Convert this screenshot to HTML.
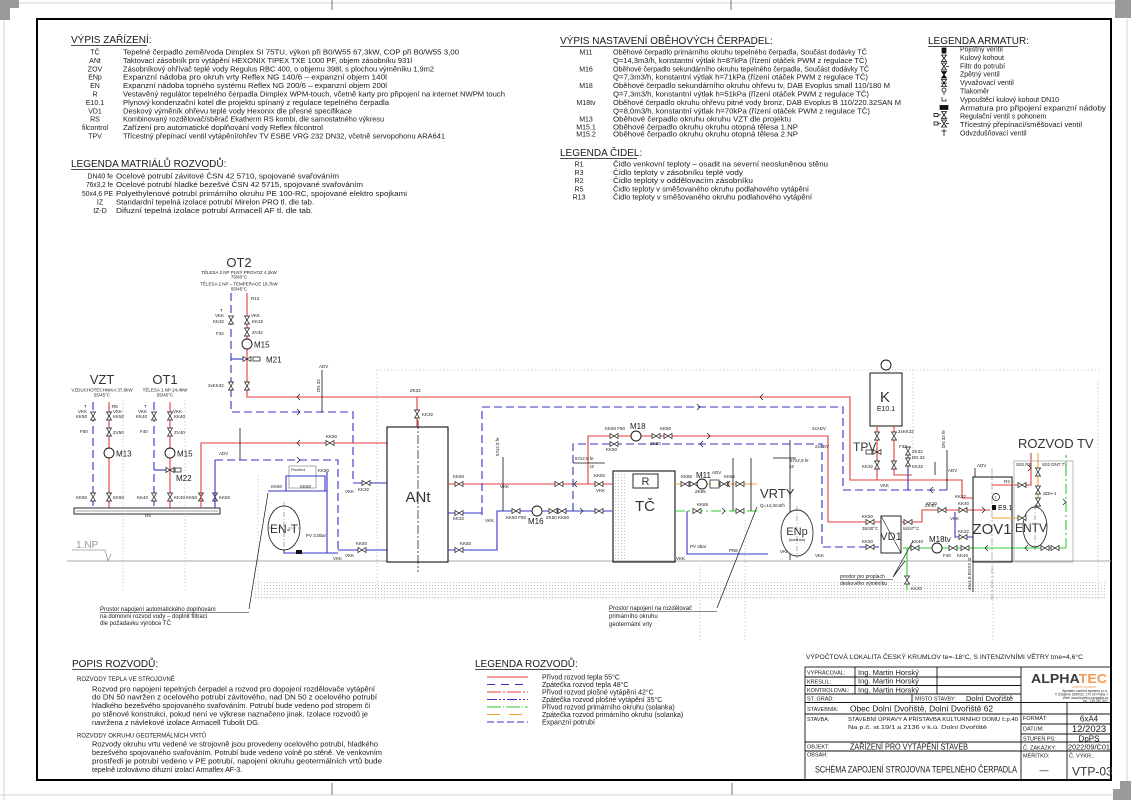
<!DOCTYPE html>
<html><head><meta charset="utf-8">
<style>
html,body{margin:0;padding:0;background:#fff;}
svg{display:block;}
text{font-family:"Liberation Sans",sans-serif;fill:#1a1a1a;}
.s7{font-size:7px;}
.s65{font-size:6.5px;}
.s6{font-size:6px;}
.s5{font-size:5.5px;}
.h{font-size:10px;}
.tn{font-size:4.5px;fill:#222;}
.big{font-size:13px;fill:#333;}
.r{stroke:#e23b3b;stroke-width:1.1;fill:none;}
.b{stroke:#3434c8;stroke-width:1.1;fill:none;}
.bd{stroke:#3434c8;stroke-width:1.1;fill:none;stroke-dasharray:8 4;}
.g{stroke:#2fcc2f;stroke-width:1.1;fill:none;}
.gd{stroke:#2fcc2f;stroke-width:1.1;fill:none;stroke-dasharray:10 3 2 3;}
.o{stroke:#f0a030;stroke-width:1.1;fill:none;}
.k{stroke:#111;stroke-width:0.8;fill:none;}
.wall{stroke:#c4c4c4;stroke-width:0.8;fill:none;stroke-dasharray:1.5 2;}
.ul{stroke:#111;stroke-width:0.8;}
</style></head><body>
<svg width="1131" height="800" viewBox="0 0 1131 800" xmlns="http://www.w3.org/2000/svg">
<defs>
<pattern id="dots" width="3" height="3" patternUnits="userSpaceOnUse"><rect width="1" height="1" fill="#c4c4c4"/></pattern>
<path id="vv" d="M-2.5,-4 L2.5,-4 L-2.5,4 L2.5,4 Z" fill="#fff" stroke="#111" stroke-width="0.7"/>
<path id="vh" d="M-4,-2.5 L-4,2.5 L4,-2.5 L4,2.5 Z" fill="#fff" stroke="#111" stroke-width="0.7"/>
<circle id="pm" r="5" fill="#fff" stroke="#111" stroke-width="0.9"/>
<path id="al" d="M3,-3 L0,0 L3,3" fill="none" stroke="#111" stroke-width="0.7"/>
<path id="ar" d="M-3,-3 L0,0 L-3,3" fill="none" stroke="#111" stroke-width="0.7"/>
</defs>
<rect width="1131" height="800" fill="#fff"/>
<!-- outer page marks -->
<path d="M19,3 H1115 M4,20 V800 M0,795 H1113 M1127,19 V781" stroke="#d4d4d4" stroke-width="1" fill="none"/>
<rect x="0" y="0" width="19" height="8" fill="#9a9a9a"/>
<rect x="0" y="8" width="10" height="12" fill="#9a9a9a"/>
<rect x="1115" y="0" width="16" height="18" fill="#9a9a9a"/>
<rect x="1120" y="781" width="11" height="8" fill="#9a9a9a"/>
<rect x="1113" y="789" width="18" height="11" fill="#9a9a9a"/>
<path d="M332,0 V10 M731,0 V10 M332,783 V795 M732,783 V795" stroke="#555" stroke-width="0.8"/>
<rect x="37" y="19" width="1074" height="761" fill="none" stroke="#000" stroke-width="2"/>

<!-- VÝPIS ZAŘÍZENÍ -->
<text x="71" y="43" class="h">VÝPIS ZAŘÍZENÍ:</text>
<line x1="71" y1="45.5" x2="147" y2="45.5" class="ul"/>
<g class="s7" text-anchor="middle">
<text x="95" y="54.5">TČ</text><text x="95" y="62.9">ANt</text><text x="95" y="71.3">ZOV</text><text x="95" y="79.7">ENp</text><text x="95" y="88.1">EN</text><text x="95" y="96.5">R</text><text x="95" y="104.9">E10.1</text><text x="95" y="113.3">VD1</text><text x="95" y="121.7">RS</text><text x="95" y="130.1">filcontrol</text><text x="95" y="138.5">TPV</text>
</g>
<g class="s7">
<text x="123" y="54.5" textLength="336" lengthAdjust="spacingAndGlyphs">Tepelné čerpadlo země/voda Dimplex SI 75TU, výkon při B0/W55 67,3kW, COP při B0/W55 3,00</text>
<text x="123" y="62.9" textLength="289" lengthAdjust="spacingAndGlyphs">Taktovací zásobník pro vytápění HEXONIX TIPEX TXE 1000 PF, objem zásobníku 931l</text>
<text x="123" y="71.3" textLength="311" lengthAdjust="spacingAndGlyphs">Zásobníkový ohřívač teplé vody Regulus RBC 400, o objemu 398l, s plochou výměníku 1,9m2</text>
<text x="123" y="79.7" textLength="264" lengthAdjust="spacingAndGlyphs">Expanzní nádoba pro okruh vrty  Reflex NG 140/6 – expanzní objem 140l</text>
<text x="123" y="88.1" textLength="264" lengthAdjust="spacingAndGlyphs">Expanzní nádoba topného systému Reflex NG 200/6 – expanzní objem 200l</text>
<text x="123" y="96.5" textLength="382" lengthAdjust="spacingAndGlyphs">Vestavěný regulátor tepelného čerpadla Dimplex WPM-touch, včetně karty pro připojení na internet NWPM touch</text>
<text x="123" y="104.9" textLength="266" lengthAdjust="spacingAndGlyphs">Plynový kondenzační kotel dle projektu spínaný z regulace tepelného čerpadla</text>
<text x="123" y="113.3" textLength="229" lengthAdjust="spacingAndGlyphs">Deskový výměník ohřevu teplé vody Hexonix dle přesné specifikace</text>
<text x="123" y="121.7" textLength="261" lengthAdjust="spacingAndGlyphs">Kombinovaný rozdělovač/sběrač Ekatherm RS kombi, dle samostatného výkresu</text>
<text x="123" y="130.1" textLength="200" lengthAdjust="spacingAndGlyphs">Zařízení pro automatické doplňování vody Reflex filcontrol</text>
<text x="123" y="138.5" textLength="322" lengthAdjust="spacingAndGlyphs">Třícestný přepínací ventil vytápění/ohřev TV ESBE VRG 232 DN32, včetně servopohonu ARA641</text>
</g>

<!-- LEGENDA MATRIÁLŮ -->
<text x="71" y="167" class="h">LEGENDA MATRIÁLŮ ROZVODŮ:</text>
<line x1="71" y1="169.5" x2="209" y2="169.5" class="ul"/>
<g class="s7" text-anchor="end">
<text x="113" y="178.5">DN40 fe</text><text x="113" y="187.2" textLength="27" lengthAdjust="spacingAndGlyphs">76x3,2 fe</text><text x="113" y="195.9" textLength="31" lengthAdjust="spacingAndGlyphs">50x4,6 PE</text>
</g>
<g class="s7" text-anchor="middle">
<text x="100" y="204.5">IZ</text><text x="100" y="213.2">IZ-D</text>
</g>
<g class="s7">
<text x="116" y="178.5" textLength="223" lengthAdjust="spacingAndGlyphs">Ocelové potrubí závitové ČSN 42 5710, spojované svařováním</text>
<text x="116" y="187.2" textLength="247" lengthAdjust="spacingAndGlyphs">Ocelové potrubí hladké bezešvé ČSN 42 5715, spojované svařováním</text>
<text x="116" y="195.9" textLength="291" lengthAdjust="spacingAndGlyphs">Polyethylenové potrubí primárního okruhu PE 100-RC, spojované elektro spojkami</text>
<text x="116" y="204.5" textLength="198" lengthAdjust="spacingAndGlyphs">Standardní tepelná izolace potrubí Mirelon PRO tl. dle tab.</text>
<text x="116" y="213.2" textLength="197" lengthAdjust="spacingAndGlyphs">Difuzní tepelná izolace potrubí Armacell AF tl. dle tab.</text>
</g>

<!-- ČERPADLA -->
<text x="560" y="44" class="h">VÝPIS NASTAVENÍ OBĚHOVÝCH ČERPADEL:</text>
<line x1="560" y1="46.5" x2="755" y2="46.5" class="ul"/>
<g class="s7" text-anchor="middle">
<text x="586" y="54.5">M11</text><text x="586" y="71.3">M16</text><text x="586" y="88.1">M18</text><text x="586" y="104.9">M18tv</text><text x="586" y="121.7">M13</text><text x="586" y="129.5">M15.1</text><text x="586" y="136.5">M15.2</text>
</g>
<g class="s7">
<text x="613" y="54.5" textLength="254" lengthAdjust="spacingAndGlyphs">Oběhové čerpadlo primárního okruhu tepelného čerpadla, Součást dodávky TČ</text>
<text x="613" y="62.9" textLength="254" lengthAdjust="spacingAndGlyphs">Q=14,3m3/h, konstantní výtlak h=87kPa (řízení otáček PWM z regulace TČ)</text>
<text x="613" y="71.3" textLength="256" lengthAdjust="spacingAndGlyphs">Oběhové čerpadlo sekundárního okruhu tepelného čerpadla, Součást dodávky TČ</text>
<text x="613" y="79.7" textLength="255" lengthAdjust="spacingAndGlyphs">Q=7,3m3/h, konstantní výtlak h=71kPa (řízení otáček PWM z regulace TČ)</text>
<text x="613" y="88.1" textLength="277" lengthAdjust="spacingAndGlyphs">Oběhové čerpadlo sekundárního okruhu ohřevu tv, DAB Evoplus small 110/180 M</text>
<text x="613" y="96.5" textLength="256" lengthAdjust="spacingAndGlyphs">Q=7,3m3/h, konstantní výtlak h=51kPa (řízení otáček PWM z regulace TČ)</text>
<text x="613" y="104.9" textLength="288" lengthAdjust="spacingAndGlyphs">Oběhové čerpadlo okruhu ohřevu pitné vody bronz, DAB Evoplus B 110/220.32SAN M</text>
<text x="613" y="113.3" textLength="257" lengthAdjust="spacingAndGlyphs">Q=8,0m3/h, konstantní výtlak h=70kPa (řízení otáček PWM z regulace TČ)</text>
<text x="613" y="121.7" textLength="178" lengthAdjust="spacingAndGlyphs">Oběhové čerpadlo okruhu okruhu VZT dle projektu</text>
<text x="613" y="129.5" textLength="185" lengthAdjust="spacingAndGlyphs">Oběhové čerpadlo okruhu okruhu otopná tělesa 1.NP</text>
<text x="613" y="136.5" textLength="185" lengthAdjust="spacingAndGlyphs">Oběhové čerpadlo okruhu okruhu otopná tělesa 2.NP</text>
</g>

<!-- ČIDLA -->
<text x="560" y="156" class="h">LEGENDA ČIDEL:</text>
<line x1="560" y1="158.5" x2="637" y2="158.5" class="ul"/>
<g class="s7" text-anchor="middle">
<text x="579" y="166.5">R1</text><text x="579" y="174.8">R3</text><text x="579" y="183.1">R2</text><text x="579" y="191.4">R5</text><text x="579" y="199.7">R13</text>
</g>
<g class="s7">
<text x="613" y="166.5" textLength="215" lengthAdjust="spacingAndGlyphs">Čidlo venkovní teploty – osadit na severní neosluněnou stěnu</text>
<text x="613" y="174.8" textLength="130" lengthAdjust="spacingAndGlyphs">Čidlo teploty v zásobníku teplé vody</text>
<text x="613" y="183.1" textLength="140" lengthAdjust="spacingAndGlyphs">Čidlo teploty v oddělovacím zásobníku</text>
<text x="613" y="191.4" textLength="196" lengthAdjust="spacingAndGlyphs">Čidlo teploty v směšovaného okruhu podlahového vytápění</text>
<text x="613" y="199.7" textLength="199" lengthAdjust="spacingAndGlyphs">Čidlo teploty v směšovaného okruhu podlahového vytápění</text>
</g>

<!-- ARMATURY -->
<text x="928" y="44" class="h">LEGENDA ARMATUR:</text>
<line x1="928" y1="46.5" x2="1018" y2="46.5" class="ul"/>
<g stroke="#111" stroke-width="0.8" fill="#fff">
<rect x="942" y="48" width="4" height="5" fill="#111"/>
<path d="M941.5,55 L946.5,55 L941.5,61.5 L946.5,61.5 Z"/>
<path d="M941.5,63 L946.5,63 L941.5,70 L946.5,70 Z M946,66.5 H949"/>
<path d="M941.5,71.5 L946.5,71.5 L941.5,78 L946.5,78 Z" fill="#111"/>
<path d="M941.5,79.5 L946.5,79.5 L941.5,86.5 L946.5,86.5 Z M941,83 L947,83"/>
<circle cx="944" cy="90" r="2"/><path d="M944,92 V95"/>
<path d="M942,97 V101 H946 V99"/>
<rect x="940" y="105.5" width="8" height="4" fill="#111"/>
<rect x="934" y="113.5" width="4" height="3"/><path d="M941.5,111.5 L946.5,111.5 L941.5,118.5 L946.5,118.5 Z M938,115 H941"/>
<rect x="934" y="122" width="4" height="3"/><path d="M941.5,120 L946.5,120 L941.5,127 L946.5,127 Z M938,123.5 H941 M946,123.5 H949"/>
<path d="M944,129 V136 M941.5,131 H946.5"/>
</g>
<g class="s7">
<text x="960" y="51.5">Pojistný ventil</text>
<text x="960" y="59.9">Kulový kohout</text>
<text x="960" y="68.3">Filtr do potrubí</text>
<text x="960" y="76.7">Zpětný ventil</text>
<text x="960" y="85.1">Vyvažovací ventil</text>
<text x="960" y="93.5">Tlakoměr</text>
<text x="960" y="101.9">Vypouštěcí kulový kohout DN10</text>
<text x="960" y="110.3" textLength="146" lengthAdjust="spacingAndGlyphs">Armatura pro připojení expanzní nádoby</text>
<text x="960" y="118.7">Regulační ventil s pohonem</text>
<text x="960" y="127.1" textLength="122" lengthAdjust="spacingAndGlyphs">Třícestný přepínací/směšovací ventil</text>
<text x="960" y="135.5">Odvzdušňovací ventil</text>
</g>

<!-- ================= DIAGRAM ================= -->
<rect x="255" y="582" width="850" height="16" fill="url(#dots)"/>
<rect x="614" y="472" width="12" height="89" fill="url(#dots)"/>
<path class="wall" d="M377,370 H1100 M123,400 V590 M185,400 V590 M258,475 V590 M377,370 V590 M700,565 V640 M745,520 V640 M913,370 V460 M993,565 V640 M1098,380 V600 M255,598 H1105"/>
<line x1="67" y1="561" x2="1111" y2="561" stroke="#aaa" stroke-width="1"/>
<text x="76" y="548" style="font-size:10px;fill:#999">1.NP</text>
<path d="M72,550 H105 L108,561 L111,554" stroke="#999" stroke-width="0.8" fill="none"/>

<!-- OT2 -->
<text x="239" y="267" class="big" text-anchor="middle">OT2</text>
<g class="tn" text-anchor="middle">
<text x="239" y="274">TĚLESA 2.NP PLNÝ PROVOZ 4,2kW</text>
<text x="239" y="278.5">75/60°C</text>
<text x="239" y="285.5">TĚLESA 2.NP – TEMPERACE 18,7kW</text>
<text x="239" y="290.5">55/45°C</text>
</g>
<path class="bd" d="M231,293 V412 H353 V483"/>
<path class="b" d="M353,483 H387"/>
<path class="b" d="M231,359 H247"/>
<path class="r" d="M247,293 V397 H850 V480 H962 V498 H973"/>
<path class="k" d="M322,370 V412"/>
<use href="#vv" x="231" y="320"/><use href="#vv" x="247" y="320"/><use href="#vv" x="247" y="332"/>
<use href="#vv" x="231" y="386"/><use href="#vv" x="247" y="386"/>
<use href="#pm" x="247" y="344"/>
<use href="#vh" x="247" y="359"/><rect x="253" y="357" width="7" height="4" fill="#fff" stroke="#111" stroke-width="0.7"/>
<text x="254" y="347.5" style="font-size:8px">M15</text>
<text x="266" y="362.5" style="font-size:8px">M21</text>
<g class="tn"><text x="220" y="312">T</text><text x="215" y="317">VKK</text><text x="213" y="323">KK32</text><text x="216" y="335">F32</text><text x="251" y="300">R13</text><text x="251" y="317">VKK</text><text x="252" y="323">KK32</text><text x="252" y="334">ZV32</text><text x="208" y="387">2xKK32</text><text x="319" y="368">ADV</text></g>
<use href="#al" x="297" y="397"/><use href="#ar" x="300" y="412"/>

<!-- VZT / OT1 -->
<text x="102" y="384" class="big" text-anchor="middle">VZT</text>
<text x="165" y="384" class="big" text-anchor="middle">OT1</text>
<g class="tn" text-anchor="middle">
<text x="102" y="391.5">VZDUCHOTECHNIKA 37,6kW</text><text x="102" y="396.5">55/45°C</text>
<text x="165" y="391.5">TĚLESA 1.NP 24,4kW</text><text x="165" y="396.5">55/45°C</text>
</g>
<path class="bd" d="M93,402 V508"/><path class="r" d="M109,402 V508"/>
<path class="bd" d="M154,402 V508"/><path class="r" d="M170,402 V508"/>
<path class="b" d="M154,470 H170"/>
<use href="#vv" x="93" y="416"/><use href="#vv" x="109" y="416"/><use href="#vv" x="154" y="416"/><use href="#vv" x="170" y="416"/>
<use href="#vv" x="109" y="432"/><use href="#vv" x="170" y="432"/>
<use href="#vv" x="93" y="497"/><use href="#vv" x="109" y="497"/><use href="#vv" x="154" y="497"/><use href="#vv" x="170" y="497"/>
<use href="#vv" x="201" y="497"/><use href="#vv" x="215" y="497"/>
<use href="#pm" x="109" y="453"/><use href="#pm" x="170" y="453"/>
<use href="#vh" x="170" y="470"/><rect x="175" y="468" width="6" height="4" fill="#fff" stroke="#111" stroke-width="0.7"/>
<text x="116" y="456.5" style="font-size:8px">M13</text>
<text x="177" y="456.5" style="font-size:8px">M15</text>
<text x="176" y="481" style="font-size:8px">M22</text>
<g class="tn">
<text x="84" y="408">T</text><text x="78" y="413">VKK</text><text x="76" y="418">KK50</text><text x="80" y="433">F50</text><text x="112" y="408">R5</text><text x="113" y="413">VKK</text><text x="113" y="418">KK50</text><text x="113" y="434">ZV50</text>
<text x="144" y="408">T</text><text x="138" y="413">VKK</text><text x="136" y="418">KK40</text><text x="140" y="433">F40</text><text x="173" y="413">VKK</text><text x="174" y="418">KK40</text><text x="174" y="434">ZV40</text>
<text x="76" y="499">KK50</text><text x="113" y="499">KK50</text><text x="137" y="499">KK40</text><text x="174" y="499">KK40</text><text x="186" y="499">KK50</text><text x="219" y="499">KK50</text><text x="219" y="455">ADV</text><text x="145" y="517">RS</text>
</g>
<rect x="74" y="508" width="146" height="6" fill="#fff" stroke="#111" stroke-width="0.9"/>
<line x1="76" y1="511" x2="218" y2="511" stroke="#111" stroke-width="0.4"/>

<!-- ANt feed lines -->
<path class="r" d="M201,508 V443 H387"/>
<path class="b" d="M215,508 V460"/>
<path class="bd" d="M215,460 H338 V550"/>
<path class="b" d="M338,550 H387"/>
<path class="k" d="M240,428 V460"/>
<use href="#al" x="297" y="443"/><use href="#ar" x="300" y="460"/>
<use href="#vh" x="330" y="443"/><use href="#vh" x="362" y="550"/><use href="#vh" x="366" y="483"/>
<g class="tn"><text x="326" y="438">KK50</text><text x="356" y="545">KK50</text><text x="358" y="491">KK32</text><text x="345" y="493">VKK</text><text x="345" y="557">VKK</text><text x="389" y="438">R2</text></g>

<!-- ANt -->
<rect x="387" y="427" width="61" height="135" fill="#fff" stroke="#111" stroke-width="1.1"/>
<path class="r" d="M417,397 V427"/>
<use href="#vv" x="417" y="414"/>
<text x="422" y="416" class="tn">KK32</text><text x="410" y="392" class="tn">ZK32</text>
<path d="M418,420 V572" stroke="#111" stroke-width="0.7" stroke-dasharray="9 2 2 2"/>
<text x="418" y="502" style="font-size:15px;fill:#333" text-anchor="middle">ANt</text>

<!-- filcontrol / EN-T -->
<rect x="289" y="466" width="27" height="22" fill="#fff" stroke="#888" stroke-width="0.7"/>
<text x="291" y="471" style="font-size:3.5px">Filcontrol</text>
<path class="b" d="M268,491 H327"/>
<path class="b" d="M286,491 V476 H325 V491"/>
<path class="b" d="M327,472 V553"/>
<path class="b" d="M284,548 V553 H338"/>
<ellipse cx="284" cy="528" rx="16" ry="22" fill="#fff" stroke="#333" stroke-width="0.9"/>
<path d="M284,502 V554 M268,528 H300" stroke="#555" stroke-width="0.5" stroke-dasharray="5 2 1 2"/>
<text x="284" y="533" style="font-size:12px;fill:#333" text-anchor="middle">EN-T</text>
<rect x="296" y="550" width="6" height="4" fill="#111"/>
<g class="tn"><text x="271" y="488">KK50</text><text x="300" y="488">KK50</text><text x="318" y="472">KK50</text><text x="306" y="537">PV 3,0bar</text><text x="333" y="560">VKK</text></g>

<!-- Leader bottom-left -->
<path d="M249,609 L268,493" stroke="#111" stroke-width="0.7"/>
<g class="s6">
<text x="100" y="611">Prostor napojení automatického doplňování</text>
<text x="100" y="618">na domovní rozvod vody – doplnit filtraci</text>
<text x="100" y="625">dle požadavku výrobce TČ</text>
</g>
<line x1="100" y1="612.5" x2="249" y2="612.5" stroke="#111" stroke-width="0.6"/>

<!-- ANt right side -->
<path class="r" d="M448,484 H612"/>
<path class="b" d="M448,513 H482"/>
<path class="bd" d="M482,515 V407 H843 V490 H947"/>
<path class="b" d="M448,550 H497 V511 H612"/>
<path class="k" d="M503,457 V511"/>
<path class="bd" d="M573,511 V444 H822 V547 H881"/>
<path class="r" d="M588,484 V436 H828 V522 H881"/>
<path class="k" d="M573,463 H605"/>
<use href="#vh" x="459" y="484"/><use href="#vh" x="459" y="513"/><use href="#vh" x="459" y="550"/>
<use href="#vh" x="516" y="511"/><use href="#pm" x="537" y="511"/><use href="#vh" x="553" y="511"/><use href="#vh" x="562" y="511"/>
<use href="#vh" x="559" y="484"/><use href="#vh" x="599" y="484"/><use href="#vh" x="599" y="511"/>
<use href="#al" x="574" y="484"/><use href="#ar" x="583" y="511"/>
<use href="#al" x="760" y="397"/><use href="#ar" x="700" y="407"/><use href="#ar" x="710" y="436"/><use href="#al" x="700" y="444"/>
<text x="528" y="524" style="font-size:8px">M16</text>
<g class="tn"><text x="453" y="478">KK50</text><text x="453" y="520">KK32</text><text x="460" y="545">KK50</text><text x="485" y="522">VKK</text><text x="506" y="519">KK50 F50</text><text x="546" y="519">ZK50 KK50</text><text x="500" y="488">VKK</text><text x="575" y="460">57x2,9 fe</text><text x="590" y="468">IZ</text><text x="596" y="492">VKK</text><text x="594" y="477">KK50</text><text x="499" y="456" transform="rotate(-90 499 456)">57x2,9 fe</text><text x="320" y="392" transform="rotate(-90 320 392)">DN 32</text></g>

<!-- M18 row -->
<use href="#vh" x="614" y="436"/><use href="#pm" x="636" y="436"/><use href="#vh" x="656" y="436"/><use href="#vh" x="668" y="436"/>
<use href="#vh" x="614" y="444"/>
<text x="630" y="429" style="font-size:8px">M18</text>
<g class="tn"><text x="605" y="430">KK50 F50</text><text x="660" y="430">KK50</text><text x="650" y="445">ZK50</text><text x="606" y="451">KK50</text><text x="812" y="430">2xADV</text><text x="815" y="448">2xADV</text><text x="790" y="462">57x2,9 fe</text><text x="790" y="468">IZ</text><text x="815" y="557">VKK</text></g>

<!-- TČ -->
<rect x="613" y="471" width="62" height="91" fill="none" stroke="#111" stroke-width="1.1"/>
<rect x="633" y="474" width="25" height="14" fill="#fff" stroke="#111" stroke-width="0.9"/>
<text x="645.5" y="485" style="font-size:11px;fill:#333" text-anchor="middle">R</text>
<text x="645" y="511" style="font-size:15px;fill:#333" text-anchor="middle">TČ</text>
<path class="o" d="M675,484 H757"/>
<path class="gd" d="M675,511 H757"/>
<path class="b" d="M687,511 V554 H768"/>
<path class="k" d="M733,458 V511 M751,458 V511 M773,458 H796 M790,440 V560"/>
<use href="#vh" x="685" y="484"/><use href="#vh" x="694" y="484"/><use href="#pm" x="702" y="484"/><rect x="710" y="480" width="9" height="8" fill="#fff" stroke="#111" stroke-width="0.7"/><use href="#vh" x="724" y="484"/><use href="#vh" x="697" y="511"/><use href="#vh" x="740" y="484"/><use href="#vh" x="740" y="511"/>
<use href="#ar" x="725" y="511"/><use href="#al" x="727" y="484"/>
<text x="696" y="478" style="font-size:8px">M11</text>
<g class="tn"><text x="681" y="478">KK65</text><text x="724" y="478">KK65</text><text x="712" y="474">ADV</text><text x="695" y="493">ZK65</text><text x="697" y="506">KK65</text><text x="676" y="560">VKK</text><text x="780" y="553">VKK</text><text x="690" y="548">PV 3bar</text><text x="729" y="552">PN8</text></g>
<text x="760" y="498" style="font-size:13px;fill:#333">VRTY</text>
<text x="760" y="507" class="tn">Q=14,3m3/h</text>
<ellipse cx="797" cy="533" rx="16" ry="23" fill="#fff" stroke="#333" stroke-width="0.9"/>
<path d="M797,506 V558" stroke="#555" stroke-width="0.5" stroke-dasharray="5 2 1 2"/>
<text x="797" y="535" style="font-size:11px;fill:#333" text-anchor="middle">ENp</text>
<text x="797" y="541" style="font-size:4px" text-anchor="middle">(solanka)</text>
<path d="M717,608 L757,507" stroke="#111" stroke-width="0.7"/>
<g class="s6">
<text x="609" y="610">Prostor napojení na rozdělovač</text>
<text x="609" y="618">primárního okruhu</text>
<text x="609" y="626">geotermální vrty</text>
</g>
<line x1="609" y1="611.5" x2="717" y2="611.5" stroke="#111" stroke-width="0.6"/>

<!-- K / TPV -->
<rect x="870" y="373" width="32" height="53" fill="#fff" stroke="#111" stroke-width="1"/>
<circle cx="886" cy="365" r="5" fill="#fff" stroke="#111" stroke-width="0.9"/>
<text x="885" y="402" style="font-size:15px;fill:#333" text-anchor="middle">K</text>
<text x="886" y="411" style="font-size:7px" text-anchor="middle">E10.1</text>
<path class="r" d="M877,426 V480"/>
<path class="r" d="M894,426 V475 H912"/>
<path class="b" d="M908,455 V490"/>
<path class="k" d="M947,450 V490 M935,462 V475"/>
<use href="#vv" x="877" y="436"/><use href="#vv" x="894" y="436"/><use href="#vv" x="877" y="465"/><use href="#vv" x="894" y="465"/><use href="#vv" x="908" y="462"/><use href="#vv" x="908" y="451"/>
<use href="#vh" x="877" y="452"/><rect x="866" y="450" width="6" height="4" fill="#fff" stroke="#111" stroke-width="0.7"/>
<text x="853" y="451" style="font-size:12px;fill:#333">TPV</text>
<use href="#al" x="930" y="490"/>
<g class="tn"><text x="898" y="433">2xKK32</text><text x="899" y="448">F32</text><text x="912" y="453">ZK32</text><text x="912" y="459">DN 32</text><text x="912" y="468">KK32</text><text x="862" y="468">KK32</text><text x="880" y="487">VKK</text><text x="945" y="448" transform="rotate(-90 945 448)">DN 32 fe</text></g>

<!-- VD1 -->
<rect x="881" y="516" width="20" height="37" fill="#fff" stroke="#111" stroke-width="0.9"/>
<line x1="881" y1="516" x2="901" y2="553" stroke="#111" stroke-width="0.6"/>
<text x="891" y="540" style="font-size:11px;fill:#333" text-anchor="middle">VD1</text>
<path class="r" d="M901,522 H922 V510 H990"/>
<path class="b" d="M955,512 V537 H973"/>
<use href="#vh" x="870" y="522"/><use href="#vh" x="870" y="547"/><use href="#vh" x="908" y="522"/><use href="#vh" x="942" y="510"/><use href="#vh" x="963" y="510"/><use href="#vh" x="963" y="537"/>
<g class="tn"><text x="862" y="518">KK50</text><text x="862" y="530">35/30°C</text><text x="862" y="543">KK50</text><text x="903" y="530">52/47°C</text><text x="925" y="507">ZK40</text><text x="958" y="505">KK40</text><text x="958" y="533">KK32</text><text x="955" y="498">KK32</text><text x="926" y="505">KK20</text><text x="950" y="520">VKK</text></g>
<use href="#ar" x="985" y="510"/>

<!-- green primary TV -->
<path class="g" d="M903,548 H1066"/>
<path class="gd" d="M1066,548 V455"/>
<path class="g" d="M907,548 V590"/>
<use href="#vh" x="915" y="548"/><use href="#pm" x="937" y="548"/><use href="#vh" x="953" y="548"/><use href="#vh" x="965" y="548"/><use href="#vh" x="1045" y="548"/><use href="#vh" x="1055" y="548"/><use href="#vv" x="907" y="580"/>
<use href="#al" x="985" y="548"/><use href="#al" x="1025" y="548"/><use href="#ar" x="1066" y="502"/>
<text x="929" y="542" style="font-size:8px">M18tv</text>
<g class="tn"><text x="912" y="543">KK40</text><text x="943" y="557">F40</text><text x="957" y="557">KK40</text><text x="911" y="590">KK20</text></g>

<!-- ZOV1 -->
<rect x="973" y="477" width="39" height="85" fill="none" stroke="#111" stroke-width="1"/>
<path d="M992,468 V600" stroke="#999" stroke-width="0.7" stroke-dasharray="8 2 2 2"/>
<path class="r" d="M992,485 H1031 V453"/>
<path class="o" d="M992,518 H1038 V453"/>
<circle cx="996" cy="497" r="3.5" fill="#fff" stroke="#111" stroke-width="0.7"/>
<text x="994" y="499" style="font-size:4px">T</text>
<rect x="992" y="505" width="4" height="5" fill="#111"/>
<text x="998" y="510" style="font-size:7px">E9.1</text>
<text x="1004" y="483" class="tn">R3</text>
<text x="992" y="534" style="font-size:15px;fill:#333" text-anchor="middle">ZOV1</text>
<path class="k" d="M975,468 V477 M973,562 V592"/>
<g class="tn"><text x="977" y="467">ADV</text><text x="948" y="472">ADV</text><text x="971" y="590" transform="rotate(-90 971 590)">45x1,8 BOXX IZ</text></g>
<rect x="1014" y="461" width="59" height="101" fill="none" stroke="#a8a8a8" stroke-width="0.8"/>
<text x="1018" y="448" style="font-size:13px;fill:#333">ROZVOD TV</text>
<ellipse cx="1035" cy="527" rx="12" ry="20" fill="#fff" stroke="#333" stroke-width="0.9"/>
<path d="M1035,505 V550" stroke="#555" stroke-width="0.5" stroke-dasharray="5 2 1 2"/>
<text x="1031" y="532" style="font-size:12px;fill:#333" text-anchor="middle">ENTV</text>
<use href="#vh" x="1022" y="485"/><use href="#vh" x="1022" y="518"/><use href="#vv" x="1038" y="472"/><use href="#vv" x="1038" y="490"/><use href="#vv" x="1038" y="502"/><use href="#ar" x="1031" y="468"/>
<g class="tn"><text x="1016" y="466">S02 RS</text><text x="1042" y="466">S02 DNT TV</text><text x="1043" y="495">SDH-1</text></g>

<!-- proplach leader -->
<path d="M893,577 L913,541 M893,577 L905,561" stroke="#111" stroke-width="0.7"/>
<g style="font-size:5px">
<text x="840" y="578">prostor pro proplach</text>
<text x="840" y="585">deskového výměníku</text>
</g>
<line x1="840" y1="579.5" x2="893" y2="579.5" stroke="#111" stroke-width="0.5"/>

<!-- ================= POPIS ROZVODŮ ================= -->
<text x="72" y="667" class="h">POPIS ROZVODŮ:</text>
<line x1="72" y1="669.5" x2="153" y2="669.5" class="ul"/>
<text x="77" y="681" class="s6">ROZVODY TEPLA VE STROJOVNĚ</text>
<g class="s7">
<text x="92" y="691.5" textLength="283" lengthAdjust="spacingAndGlyphs">Rozvod pro napojení tepelných čerpadel a rozvod pro dopojení rozdělovače vytápění</text>
<text x="92" y="699.5" textLength="285" lengthAdjust="spacingAndGlyphs">do DN 50 navržen z ocelového potrubí závitového, nad DN 50 z ocelového potrubí</text>
<text x="92" y="708" textLength="278" lengthAdjust="spacingAndGlyphs">hladkého bezešvého spojovaného svařováním. Potrubí bude vedeno pod stropem či</text>
<text x="92" y="716.5" textLength="276" lengthAdjust="spacingAndGlyphs">po stěnové konstrukci, pokud není ve výkrese naznačeno jinak. Izolace rozvodů je</text>
<text x="92" y="725" textLength="168" lengthAdjust="spacingAndGlyphs">navržena z návlekové izolace Armacell Tubolit DG.</text>
</g>
<text x="77" y="737.5" class="s6">ROZVODY OKRUHU GEOTERMÁLNÍCH VRTŮ</text>
<g class="s7">
<text x="92" y="746.5" textLength="286" lengthAdjust="spacingAndGlyphs">Rozvody okruhu vrtu vedené ve strojovně jsou provedeny ocelového potrubí, hladkého</text>
<text x="92" y="755" textLength="290" lengthAdjust="spacingAndGlyphs">bezešvého spojovaného svařováním. Potrubí bude vedeno volně po stěně. Ve venkovním</text>
<text x="92" y="763.5" textLength="290" lengthAdjust="spacingAndGlyphs">prostředí je potrubí vedeno v PE potrubí, napojení okruhu geotermálních vrtů bude</text>
<text x="92" y="772">tepelně izolovávno difuzní izolací Armaflex AF-3.</text>
</g>

<!-- LEGENDA ROZVODŮ -->
<text x="475" y="667" class="h">LEGENDA ROZVODŮ:</text>
<line x1="475" y1="669.5" x2="571" y2="669.5" class="ul"/>
<g fill="none" stroke-width="1.1">
<path d="M487,677 H528" stroke="#e23b3b"/>
<path d="M487,684.5 H528" stroke="#3434c8" stroke-dasharray="8 6"/>
<path d="M487,692 H528" stroke="#e23b3b" stroke-dasharray="14 2 2 2"/>
<path d="M487,699.5 H528" stroke="#3434c8" stroke-dasharray="10 2 2 2 2 2"/>
<path d="M487,707 H528" stroke="#2fcc2f" stroke-dasharray="14 2 1 2"/>
<path d="M487,714.5 H528" stroke="#f0a030" stroke-dasharray="13 9"/>
<path d="M487,722 H528" stroke="#3434c8" stroke-dasharray="7 3"/>
</g>
<g class="s7">
<text x="542" y="679.5">Přívod rozvod tepla 55°C</text>
<text x="542" y="687">Zpátečka rozvod tepla 48°C</text>
<text x="542" y="694.5">Přívod rozvod plošné vytápění 42°C</text>
<text x="542" y="702">Zpátečka rozvod plošné vytápění 35°C</text>
<text x="542" y="709.5">Přívod rozvod primárního okruhu (solanka)</text>
<text x="542" y="717">Zpátečka rozvod primárního okruhu (solanka)</text>
<text x="542" y="724.5">Expanzní potrubí</text>
</g>

<!-- ================= TITLE BLOCK ================= -->
<text x="806" y="659" style="font-size:6.3px" textLength="277" lengthAdjust="spacingAndGlyphs">VÝPOČTOVÁ LOKALITA ČESKÝ KRUMLOV te=-18°C, S INTENZIVNÍMI VĚTRY tme=4,6°C</text>
<g stroke="#111" stroke-width="0.9" fill="none">
<rect x="805" y="667" width="306" height="113"/>
<path d="M805,677 H1021 M805,685.5 H1021 M805,694 H1021 M805,702.5 H1111 M805,714 H1111 M1021,724 H1111 M1021,734 H1111 M805,742 H1111 M805,751 H1111"/>
<path d="M855,667 V694 M937,667 V694 M912,694 V702.5 M1021,667 V780 M1067,702.5 V780"/>
</g>
<g class="s5">
<text x="807" y="674.5">VYPRACOVAL:</text>
<text x="807" y="683.3">KRESLIL:</text>
<text x="807" y="692">KONTROLOVAL:</text>
<text x="807" y="700.5">ST. GRAD:</text>
<text x="915" y="700.5">MÍSTO STAVBY:</text>
<text x="807" y="711">STAVEBNÍK:</text>
<text x="807" y="721">STAVBA:</text>
<text x="807" y="748.5">OBJEKT:</text>
<text x="807" y="756.5">OBSAH:</text>
<text x="1023" y="720">FORMÁT:</text>
<text x="1023" y="730.5">DATUM:</text>
<text x="1023" y="740.5">STUPEŇ PS:</text>
<text x="1023" y="749.5">Č. ZAKÁZKY:</text>
<text x="1023" y="757.5">MĚŘÍTKO:</text>
<text x="1069" y="757.5">Č. VÝKR.:</text>
</g>
<g style="font-size:7.5px">
<text x="858" y="675">Ing. Martin Horský</text>
<text x="858" y="683.7">Ing. Martin Horský</text>
<text x="858" y="692.3">Ing. Martin Horský</text>
<text x="966" y="701">Dolní Dvořiště</text>
</g>
<text x="850" y="711.5" style="font-size:8px" textLength="143" lengthAdjust="spacingAndGlyphs">Obec Dolní Dvořiště, Dolní Dvořiště 62</text>
<text x="848" y="721" style="font-size:5.5px" textLength="170" lengthAdjust="spacingAndGlyphs">STAVEBNÍ ÚPRAVY A PŘÍSTAVBA KULTURNÍHO DOMU č.p.40</text>
<text x="848" y="729" style="font-size:5px" textLength="139" lengthAdjust="spacingAndGlyphs">Na p.č. st.19/1 a 2136 v k.ú. Dolní Dvořiště</text>
<text x="850" y="749.5" style="font-size:8px" textLength="118" lengthAdjust="spacingAndGlyphs">ZAŘÍZENÍ PRO VYTÁPĚNÍ STAVEB</text>
<text x="815" y="772.5" style="font-size:9px" textLength="202" lengthAdjust="spacingAndGlyphs">SCHÉMA ZAPOJENÍ STROJOVNA TEPELNÉHO ČERPADLA</text>
<g text-anchor="middle">
<text x="1089" y="721.5" style="font-size:8px">6xA4</text>
<text x="1089" y="732" style="font-size:9.5px">12/2023</text>
<text x="1089" y="741.7" style="font-size:8px">DpPS</text>
<text x="1044" y="773" style="font-size:9px">—</text>
</g>
<text x="1068" y="749.5" style="font-size:7.5px" textLength="42" lengthAdjust="spacingAndGlyphs">2022/09/C01</text>
<text x="1072" y="775.5" style="font-size:12px;fill:#333">VTP-03</text>
<text x="1031" y="683" style="font-size:12.5px;font-weight:bold" textLength="76" lengthAdjust="spacingAndGlyphs"><tspan fill="#3a3a3a">ALPHA</tspan><tspan fill="#f39a55">TEC</tspan></text>
<text x="1072" y="688" style="font-size:3.3px;fill:#f39a55">comfort systems</text>
<g style="font-size:3.3px;fill:#333" text-anchor="end">
<text x="1108" y="692">Alphatec comfort systems s.r.o.</text>
<text x="1108" y="695.5">V Úžlabině 1699/20, 170 00 Praha 7</text>
<text x="1108" y="699">Web: www.tepelna-cerpadla.cz</text>
<text x="1108" y="702">tel.: 725 287 607</text>
</g>
</svg>
</body></html>
